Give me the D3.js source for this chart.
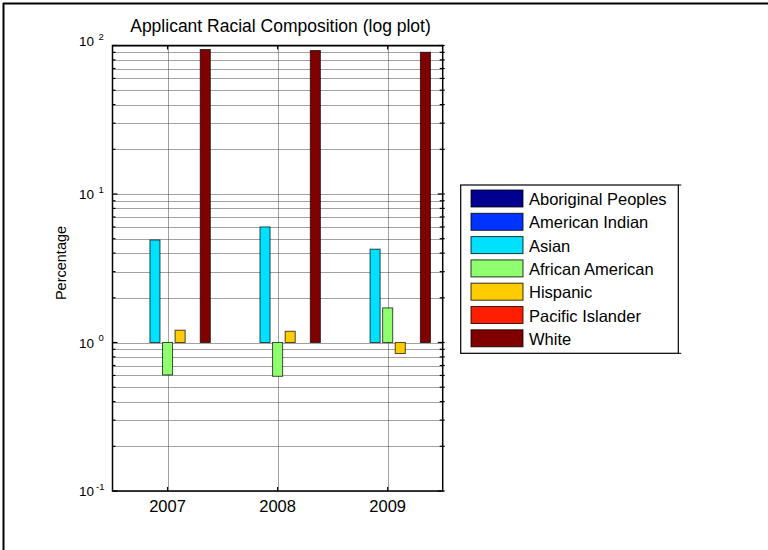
<!DOCTYPE html>
<html>
<head>
<meta charset="utf-8">
<script src="https://cdn.jsdelivr.net/npm/d3@7"></script>
<style>
  body { margin: 0; background: #fff; }
  svg { display: block; font-family: "Liberation Sans", Arial, sans-serif; }
</style>
</head>
<body>
<svg id="chart" width="768" height="550"></svg>
<script>
// ---- data ----
const years = ["2007", "2008", "2009"];
const seriesNames = ["Aboriginal Peoples", "American Indian", "Asian", "African American", "Hispanic", "Pacific Islander", "White"];
const seriesColors = ["#000090", "#0033ff", "#00e1ff", "#8fff70", "#ffcc00", "#ff1f00", "#800000"];
const aboriginal = [0, 0, 0];
const americanIndian = [0, 0, 0];
const asian = [4.9, 6.0, 4.25];
const africanAmerican = [0.605, 0.592, 1.71];
const hispanic = [1.21, 1.19, 0.843];
const pacificIslander = [0, 0, 0];
const white = [94, 92.5, 90];
const yTickValues = [0.1, 1, 10, 100];
const yTickExponents = ["-1", "0", "1", "2"];
const titleText = "Applicant Racial Composition (log plot)";
const yLabelText = "Percentage";

const seriesValues = [aboriginal, americanIndian, asian, africanAmerican, hispanic, pacificIslander, white];

// ---- layout ----
const svg = d3.select("#chart");
const L = 112.5, R = 442.7, T = 45.5, B = 491;

const x = d3.scaleBand().domain(years).range([L, R]).padding(0);
const y = d3.scaleLog().domain([0.1, 100]).range([B, T]);

// figure frame (top/left)
svg.append("line").attr("x1", 3).attr("x2", 768).attr("y1", 3.5).attr("y2", 3.5).attr("stroke", "#000").attr("stroke-width", 2);
svg.append("line").attr("x1", 3.5).attr("x2", 3.5).attr("y1", 3).attr("y2", 550).attr("stroke", "#000").attr("stroke-width", 2);

// grid
const allTicks = y.ticks();
const gridG = svg.append("g");
gridG.selectAll("line.hg").data(allTicks).enter().append("line")
  .attr("x1", L).attr("x2", R)
  .attr("y1", d => Math.round(y(d)) + 0.5).attr("y2", d => Math.round(y(d)) + 0.5)
  .attr("stroke", "#444").attr("stroke-dasharray", "1,1").attr("stroke-width", 1);
gridG.selectAll("line.vg").data(years).enter().append("line")
  .attr("x1", d => Math.round(x(d) + x.bandwidth() / 2) + 0.5)
  .attr("x2", d => Math.round(x(d) + x.bandwidth() / 2) + 0.5)
  .attr("y1", T).attr("y2", B)
  .attr("stroke", "#444").attr("stroke-dasharray", "1,1").attr("stroke-width", 1);

// bars
const groupW = x.bandwidth() * 0.8;
const slot = groupW / seriesNames.length;
const barW = slot * 0.8;
const base = y(1);
const barData = [];
seriesValues.forEach((vals, si) => {
  vals.forEach((v, yi) => {
    if (v > 0) barData.push({ si, year: years[yi], v });
  });
});
svg.append("g").selectAll("rect").data(barData).enter().append("rect")
  .attr("x", d => x(d.year) + x.bandwidth() / 2 + (d.si - (seriesNames.length - 1) / 2) * slot - barW / 2)
  .attr("width", barW)
  .attr("y", d => Math.min(y(d.v), base))
  .attr("height", d => Math.abs(base - y(d.v)))
  .attr("fill", d => seriesColors[d.si])
  .attr("stroke", "#000").attr("stroke-opacity", 0.7).attr("stroke-width", 1);

// axes box
svg.append("rect").attr("x", L).attr("y", T).attr("width", R - L).attr("height", B - T)
  .attr("fill", "none").attr("stroke", "#000").attr("stroke-width", 1.5);

// y ticks (both sides)
const tickG = svg.append("g").attr("stroke", "#000").attr("stroke-width", 1.2);
allTicks.forEach(d => {
  const major = yTickValues.includes(d);
  const len = major ? 5 : 3;
  const yy = y(d);
  tickG.append("line").attr("x1", L).attr("x2", L + len).attr("y1", yy).attr("y2", yy);
  tickG.append("line").attr("x1", R - len).attr("x2", R + 2).attr("y1", yy).attr("y2", yy);
});
years.forEach(d => {
  const xx = x(d) + x.bandwidth() / 2;
  tickG.append("line").attr("x1", xx).attr("x2", xx).attr("y1", B).attr("y2", B - 4);
  tickG.append("line").attr("x1", xx).attr("x2", xx).attr("y1", T).attr("y2", T + 4);
});

// y tick labels
yTickValues.forEach((d, i) => {
  const yy = y(d) + (i === yTickValues.length - 1 ? 0.5 : 5);
  svg.append("text").attr("x", 94).attr("y", yy).attr("text-anchor", "end")
    .attr("font-size", 13.5).attr("fill", "#000").text("10");
  svg.append("text").attr("x", yTickExponents[i].length > 1 ? 96 : 98.5).attr("y", yy - 6.5)
    .attr("font-size", 9.5).attr("fill", "#000").text(yTickExponents[i]);
});

// x tick labels
svg.append("g").selectAll("text").data(years).enter().append("text")
  .attr("x", d => x(d) + x.bandwidth() / 2).attr("y", 511.5)
  .attr("text-anchor", "middle").attr("font-size", 16.5).attr("fill", "#000").text(d => d);

// title
svg.append("text").attr("x", 280.5).attr("y", 32).attr("text-anchor", "middle")
  .attr("font-size", 17.5).attr("fill", "#000").text(titleText);

// y label
svg.append("text").attr("transform", "translate(65.5,263) rotate(-90)")
  .attr("text-anchor", "middle").attr("font-size", 14.5).attr("fill", "#000").text(yLabelText);

// legend
const lg = svg.append("g");
const lx = 460.7, ly = 185, lw = 217.6, lh = 168.3, step = 23.3;
lg.append("rect").attr("x", lx).attr("y", ly).attr("width", lw).attr("height", lh)
  .attr("fill", "#fff").attr("stroke", "#000").attr("stroke-width", 1.2);
lg.append("line").attr("x1", lx + lw).attr("x2", lx + lw + 3).attr("y1", ly).attr("y2", ly).attr("stroke", "#000");
lg.append("line").attr("x1", lx + lw).attr("x2", lx + lw + 3).attr("y1", ly + lh).attr("y2", ly + lh).attr("stroke", "#000");
seriesNames.forEach((name, i) => {
  const ey = ly + 5 + i * step;
  lg.append("rect").attr("x", 471).attr("y", ey).attr("width", 52).attr("height", 17)
    .attr("fill", seriesColors[i]).attr("stroke", "#000").attr("stroke-opacity", 0.8).attr("stroke-width", 1);
  lg.append("text").attr("x", 529).attr("y", ey + 15).attr("font-size", 16.5).attr("fill", "#000").text(name);
});
</script>
</body>
</html>
